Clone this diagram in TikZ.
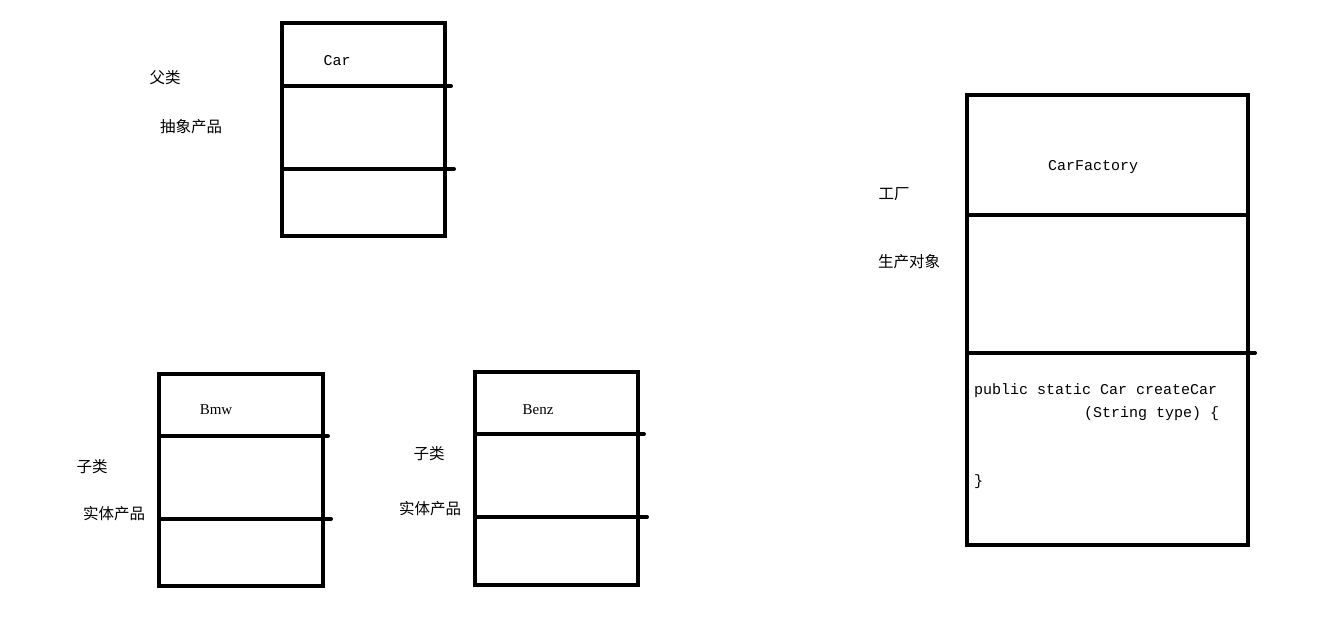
\documentclass[tikz,border=0pt]{standalone}
\usepackage{fontspec}
\setmainfont{Liberation Serif}
\newfontfamily\monofont{Liberation Mono}
\newfontfamily\cjk{Noto Sans CJK SC}
\usepackage{tikz}
\usetikzlibrary{calc}

\begin{document}
\begin{tikzpicture}[x=1pt,y=-1pt]
    \tikzstyle{classbox}=[draw=black,line width=4pt,rectangle,inner sep=0pt,outer sep=0pt];
    \tikzstyle{divider}=[draw=black,line width=4pt,line cap=round];
    \tikzstyle{cname}=[font=\monofont\fontsize{15}{17}\selectfont,inner sep=0pt];
    \tikzstyle{sname}=[font=\fontsize{15}{17}\selectfont,inner sep=0pt];
    \tikzstyle{note}=[font=\cjk\fontsize{15.5}{17}\selectfont,inner sep=0pt];
    \tikzstyle{code}=[cname,anchor=west];

    \useasboundingbox (0,0) rectangle (1335,629);

    % Draw the class boxes
    \node[classbox,minimum width=163pt,minimum height=213pt] (car) at (363.5,129.5) {};
    \node[classbox,minimum width=164pt,minimum height=212pt] (bmw) at (241,480) {};
    \node[classbox,minimum width=163pt,minimum height=213pt] (benz) at (556.5,478.5) {};
    \node[classbox,minimum width=281pt,minimum height=450pt] (factory) at (1107.5,320) {};

    % Split every box into its compartments
    \foreach \y/\xend in {86/451,169/454}
    \draw[divider] (car.west |- 0,\y) -- (\xend,\y);
    \foreach \y/\xend in {436/328,519/331}
    \draw[divider] (bmw.west |- 0,\y) -- (\xend,\y);
    \foreach \y/\xend in {434/644,517/647}
    \draw[divider] (benz.west |- 0,\y) -- (\xend,\y);
    \draw[divider] (factory.west |- 0,215) -- (factory.east |- 0,215);
    \draw[divider] (969,353) -- (1255,353);

    % Class names
    \node[cname] (car-name) at (337,61) {Car};
    \node[sname] (bmw-name) at (216,410) {Bmw};
    \node[sname] (benz-name) at (538,410) {Benz};
    \node[cname] (factory-name) at (1093,167) {CarFactory};

    % The factory method
    \node[code] (m1) at (974,391) {public static Car createCar};
    \node[code] (m2) at (1084,414) {(String type) \{};
    \node[code] (m3) at (974,482) {\}};

    % Annotate the boxes
    \node[note] (car-a) at (165,78) {父类};
    \node[note] (car-b) at (191,127) {抽象产品};
    \node[note] (bmw-a) at (92,467) {子类};
    \node[note] (bmw-b) at (114,514) {实体产品};
    \node[note] (benz-a) at (429,454) {子类};
    \node[note] (benz-b) at (430,509) {实体产品};
    \node[note] (factory-a) at (894,194) {工厂};
    \node[note] (factory-b) at (909,262) {生产对象};
\end{tikzpicture}
\end{document}
